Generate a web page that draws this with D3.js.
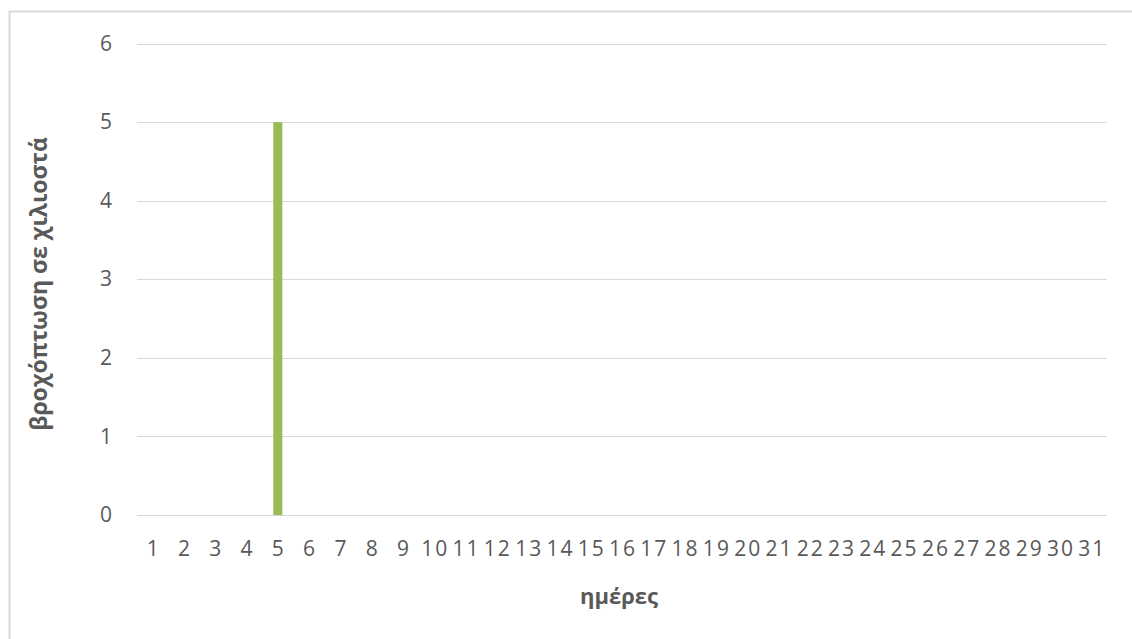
<!DOCTYPE html>
<html>
<head>
<meta charset="utf-8">
<script src="https://cdn.jsdelivr.net/npm/d3@7"></script>
<style>
  html, body { margin: 0; padding: 0; background: #fff; }
  svg { display: block; }
</style>
</head>
<body>
<svg id="chart" width="1132" height="639"></svg>
<script>
// Daily rainfall (mm) for a 31-day month
const days = d3.range(1, 32).map(String);
const rainfall = [0, 0, 0, 0, 5, 0, 0, 0, 0, 0, 0, 0, 0, 0, 0, 0, 0, 0, 0, 0, 0, 0, 0, 0, 0, 0, 0, 0, 0, 0, 0];
const yTicks = [0, 1, 2, 3, 4, 5, 6];
const xTitle = "ημέρες";
const yTitle = "βροχόπτωση σε χιλιοστά";

const svg = d3.select("#chart");
const font = "'Open Sans', 'Noto Sans', sans-serif";
const textColor = "#595959";

// Chart frame (runs past the right and bottom edges)
svg.append("rect")
  .attr("x", 9.5).attr("y", 11.5)
  .attr("width", 1200).attr("height", 700)
  .attr("fill", "#fff")
  .attr("stroke", "#d9d9d9")
  .attr("stroke-width", 2);

const plot = { left: 137, right: 1107, top: 43.5, bottom: 515 };

const x = d3.scaleBand()
  .domain(days)
  .range([plot.left, plot.right])
  .paddingInner(0.71)
  .paddingOuter(0.355);

const y = d3.scaleLinear()
  .domain([0, 6])
  .range([plot.bottom, plot.top]);

// Horizontal gridlines
svg.append("g")
  .selectAll("line")
  .data(yTicks)
  .join("line")
  .attr("x1", plot.left).attr("x2", plot.right)
  .attr("y1", d => Math.round(y(d)) + 0.5)
  .attr("y2", d => Math.round(y(d)) + 0.5)
  .attr("stroke", "#d9d9d9")
  .attr("stroke-width", 1);

// Bars
svg.append("g")
  .selectAll("rect")
  .data(days.map((d, i) => ({ day: d, value: rainfall[i] })))
  .join("rect")
  .attr("x", d => x(d.day))
  .attr("y", d => y(d.value))
  .attr("width", x.bandwidth())
  .attr("height", d => y(0) - y(d.value))
  .attr("fill", "#9bbb59");

// Y axis labels
const yAxis = d3.axisLeft(y).tickValues(yTicks).tickFormat(d3.format("d")).tickSize(0).tickPadding(0);
const gy = svg.append("g")
  .attr("transform", `translate(${plot.left - 25},0)`)
  .call(yAxis);
gy.select(".domain").remove();
gy.selectAll("text")
  .attr("font-family", font)
  .attr("font-size", 21)
  .attr("fill", textColor);

// X axis labels (slightly tracked digits; dx re-centres the trailing spacing)
const tracking = 2;
const xAxis = d3.axisBottom(x).tickSize(0).tickPadding(0);
const gx = svg.append("g")
  .attr("transform", `translate(0,${plot.bottom + 26})`)
  .call(xAxis);
gx.select(".domain").remove();
gx.selectAll("text")
  .attr("font-family", font)
  .attr("font-size", 21)
  .attr("letter-spacing", tracking)
  .attr("dx", tracking / 2)
  .attr("fill", textColor);

// Axis titles
svg.append("text")
  .attr("x", 619)
  .attr("y", 604)
  .attr("text-anchor", "middle")
  .attr("font-family", font)
  .attr("font-size", 22)
  .attr("font-weight", "bold")
  .attr("fill", textColor)
  .text(xTitle);

svg.append("text")
  .attr("transform", `translate(47,284) rotate(-90)`)
  .attr("text-anchor", "middle")
  .attr("font-family", font)
  .attr("font-size", 23)
  .attr("font-weight", "bold")
  .attr("fill", textColor)
  .text(yTitle);
</script>
</body>
</html>
